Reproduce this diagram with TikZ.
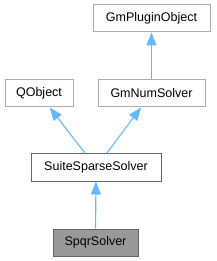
\documentclass[tikz,border=0pt]{standalone}
\usepackage{fontspec}
\setmainfont{Liberation Sans}
\usetikzlibrary{arrows.meta}
\definecolor{edgeblue}{HTML}{63B8FF}
\definecolor{boxgray}{HTML}{999999}
\definecolor{darkgray}{HTML}{666666}
\begin{document}
\begin{tikzpicture}[x=1pt,y=-1pt,
  cls/.style={draw=boxgray!80, fill=white, line width=1pt, minimum height=27pt, inner sep=0pt, font=\fontsize{12.5}{14}\selectfont},
  main/.style={cls, draw=darkgray},
  cur/.style={cls, draw=darkgray, fill=boxgray},
  arr/.style={draw=edgeblue, line width=1.1pt, -{Triangle[length=13pt,width=10pt]}}]
\useasboundingbox (0,0) rectangle (216,261);
\node[cls, minimum width=117pt] (gpo) at (151.5,18.5) {GmPluginObject};
\node[cls, minimum width=68pt] (qo) at (39,93.5) {QObject};
\node[cls, minimum width=107pt] (gns) at (151.5,93.5) {GmNumSolver};
\node[main, minimum width=130pt] (ss) at (96,167.5) {SuiteSparseSolver};
\node[cur, minimum width=85pt] (sq) at (95.5,242.5) {SpqrSolver};
\draw[arr] (gns) -- (gpo);
\draw[arr] (ss) -- (qo);
\draw[arr] (ss) -- (gns);
\draw[arr] (sq) -- (ss);
\end{tikzpicture}
\end{document}
